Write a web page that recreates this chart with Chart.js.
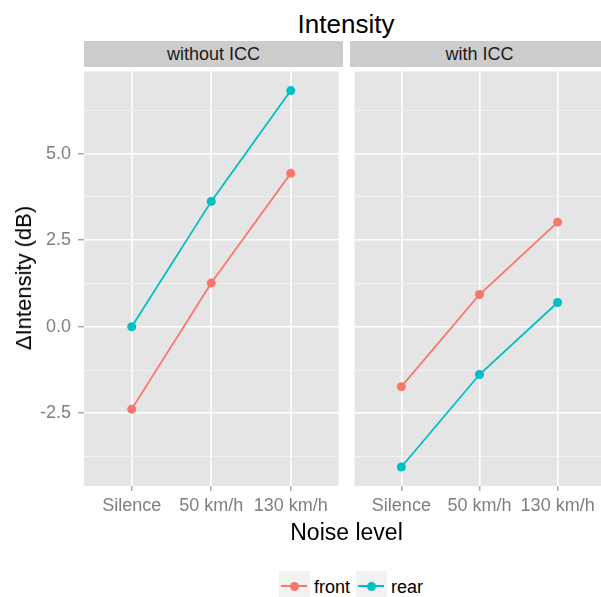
<!DOCTYPE html>
<html>
<head>
<meta charset="utf-8">
<script src="https://cdn.jsdelivr.net/npm/chart.js@4"></script>
<style>
  html, body { margin: 0; padding: 0; background: #fff; }
  body { width: 601px; height: 597px; overflow: hidden; position: relative; font-family: "Liberation Sans", Arial, sans-serif; }
  canvas { position: absolute; }
  .txt { position: absolute; white-space: nowrap; }
  #title { left: 146px; width: 400px; top: 11px; text-align: center; font-size: 26px; line-height: 26px; color: #000; }
  .strip { position: absolute; top: 41px; height: 26px; background: #cccccc; color: #1a1a1a; font-size: 18px; line-height: 26px; text-align: center; }
  #xTitle { left: 84px; width: 525px; top: 521px; text-align: center; font-size: 23px; line-height: 23px; color: #000; }
  #yTitle { left: 24px; top: 278px; transform: translate(-50%, -50%) rotate(-90deg); font-size: 22px; line-height: 22px; color: #000; }
  .key { position: absolute; top: 571px; width: 31px; height: 31px; background: #f2f2f2; }
  .key .ln { position: absolute; left: 2px; right: 3px; top: 14px; height: 2px; }
  .key .pt { position: absolute; left: 11px; top: 11px; width: 9px; height: 9px; border-radius: 50%; }
  .lab { position: absolute; top: 578px; font-size: 18px; line-height: 18px; color: #000; }
</style>
</head>
<body>
<div id="title" class="txt">Intensity</div>
<div class="strip" style="left:84px;width:259px">without ICC</div>
<div class="strip" style="left:350px;width:259px">with ICC</div>
<canvas id="leftChart" width="343" height="453" style="left:0;top:67px"></canvas>
<canvas id="rightChart" width="259" height="453" style="left:350px;top:67px"></canvas>
<div id="xTitle" class="txt">Noise level</div>
<div id="yTitle" class="txt">ΔIntensity (dB)</div>
<div class="key" style="left:279px"><div class="ln" style="background:#F8766D"></div><div class="pt" style="background:#F8766D"></div></div>
<div class="lab" style="left:314px">front</div>
<div class="key" style="left:356px"><div class="ln" style="background:#00BFC4"></div><div class="pt" style="background:#00BFC4"></div></div>
<div class="lab" style="left:391px">rear</div>
<script>
const noiseLevels = ["Silence", "50 km/h", "130 km/h"];
const yTickValues = [-3.75, -2.5, -1.25, 0, 1.25, 2.5, 3.75, 5, 6.25];

const frontWithout = [-2.38, 1.26, 4.43];
const rearWithout = [0.0, 3.62, 6.82];
const frontWith = [-1.73, 0.93, 3.02];
const rearWith = [-4.05, -1.38, 0.70];

const frontColor = "#F8766D";
const rearColor = "#00BFC4";
const tickGrey = "#7f7f7f";

const panelBackground = {
  id: "panelBackground",
  beforeDraw(chart) {
    const { ctx, chartArea: a } = chart;
    ctx.save();
    ctx.fillStyle = "#e5e5e5";
    ctx.fillRect(a.left, a.top, a.right - a.left, a.bottom - a.top);
    ctx.restore();
  }
};

function series(label, values, color) {
  return {
    label,
    data: values.map((v, i) => ({ x: i + 1, y: v })),
    borderColor: color,
    backgroundColor: color,
    borderWidth: 1.8,
    pointRadius: 4.5,
    pointBorderWidth: 0,
    tension: 0
  };
}

function isMajor(value) {
  return Math.abs(value / 2.5 - Math.round(value / 2.5)) < 1e-6;
}

// chart.js adds room for overflowing edge labels; the panels must sit exactly
function noPadding(scale) {
  scale.paddingLeft = 0;
  scale.paddingRight = 0;
  scale.paddingTop = 0;
  scale.paddingBottom = 0;
}

function makeChart(canvasId, front, rear, showY) {
  return new Chart(document.getElementById(canvasId), {
    type: "line",
    data: { datasets: [series("front", front, frontColor), series("rear", rear, rearColor)] },
    plugins: [panelBackground],
    options: {
      responsive: false,
      animation: false,
      layout: { padding: 0 },
      plugins: { legend: { display: false }, tooltip: { enabled: false } },
      scales: {
        x: {
          type: "linear",
          min: 0.4,
          max: 3.6,
          afterBuildTicks: scale => { scale.ticks = noiseLevels.map((_, i) => ({ value: i + 1 })); },
          afterFit: scale => { scale.height = 34; noPadding(scale); },
          border: { display: false },
          grid: { color: "#ffffff", lineWidth: 1.6, tickLength: 5, tickColor: tickGrey, tickWidth: 1 },
          ticks: {
            color: tickGrey,
            padding: 4,
            maxRotation: 0,
            autoSkip: false,
            font: { family: "'Liberation Sans', Arial, sans-serif", size: 18 },
            callback: value => noiseLevels[Math.round(value) - 1] ?? ""
          }
        },
        y: {
          type: "linear",
          min: -4.6,
          max: 7.371,
          afterBuildTicks: scale => { scale.ticks = yTickValues.map(v => ({ value: v })); },
          afterFit: scale => { scale.width = showY ? 84 : 0; noPadding(scale); },
          border: { display: false },
          grid: {
            color: ctx => isMajor(ctx.tick.value) ? "#ffffff" : "#f2f2f2",
            lineWidth: ctx => isMajor(ctx.tick.value) ? 1.6 : 1,
            drawTicks: showY,
            tickLength: 6,
            tickColor: ctx => isMajor(ctx.tick.value) ? tickGrey : "rgba(0,0,0,0)",
            tickWidth: 1
          },
          ticks: {
            display: showY,
            color: tickGrey,
            padding: 7,
            autoSkip: false,
            font: { family: "'Liberation Sans', Arial, sans-serif", size: 18 },
            callback: value => isMajor(value) ? value.toFixed(1) : ""
          }
        }
      }
    }
  });
}

makeChart("leftChart", frontWithout, rearWithout, true);
makeChart("rightChart", frontWith, rearWith, false);
</script>
</body>
</html>
